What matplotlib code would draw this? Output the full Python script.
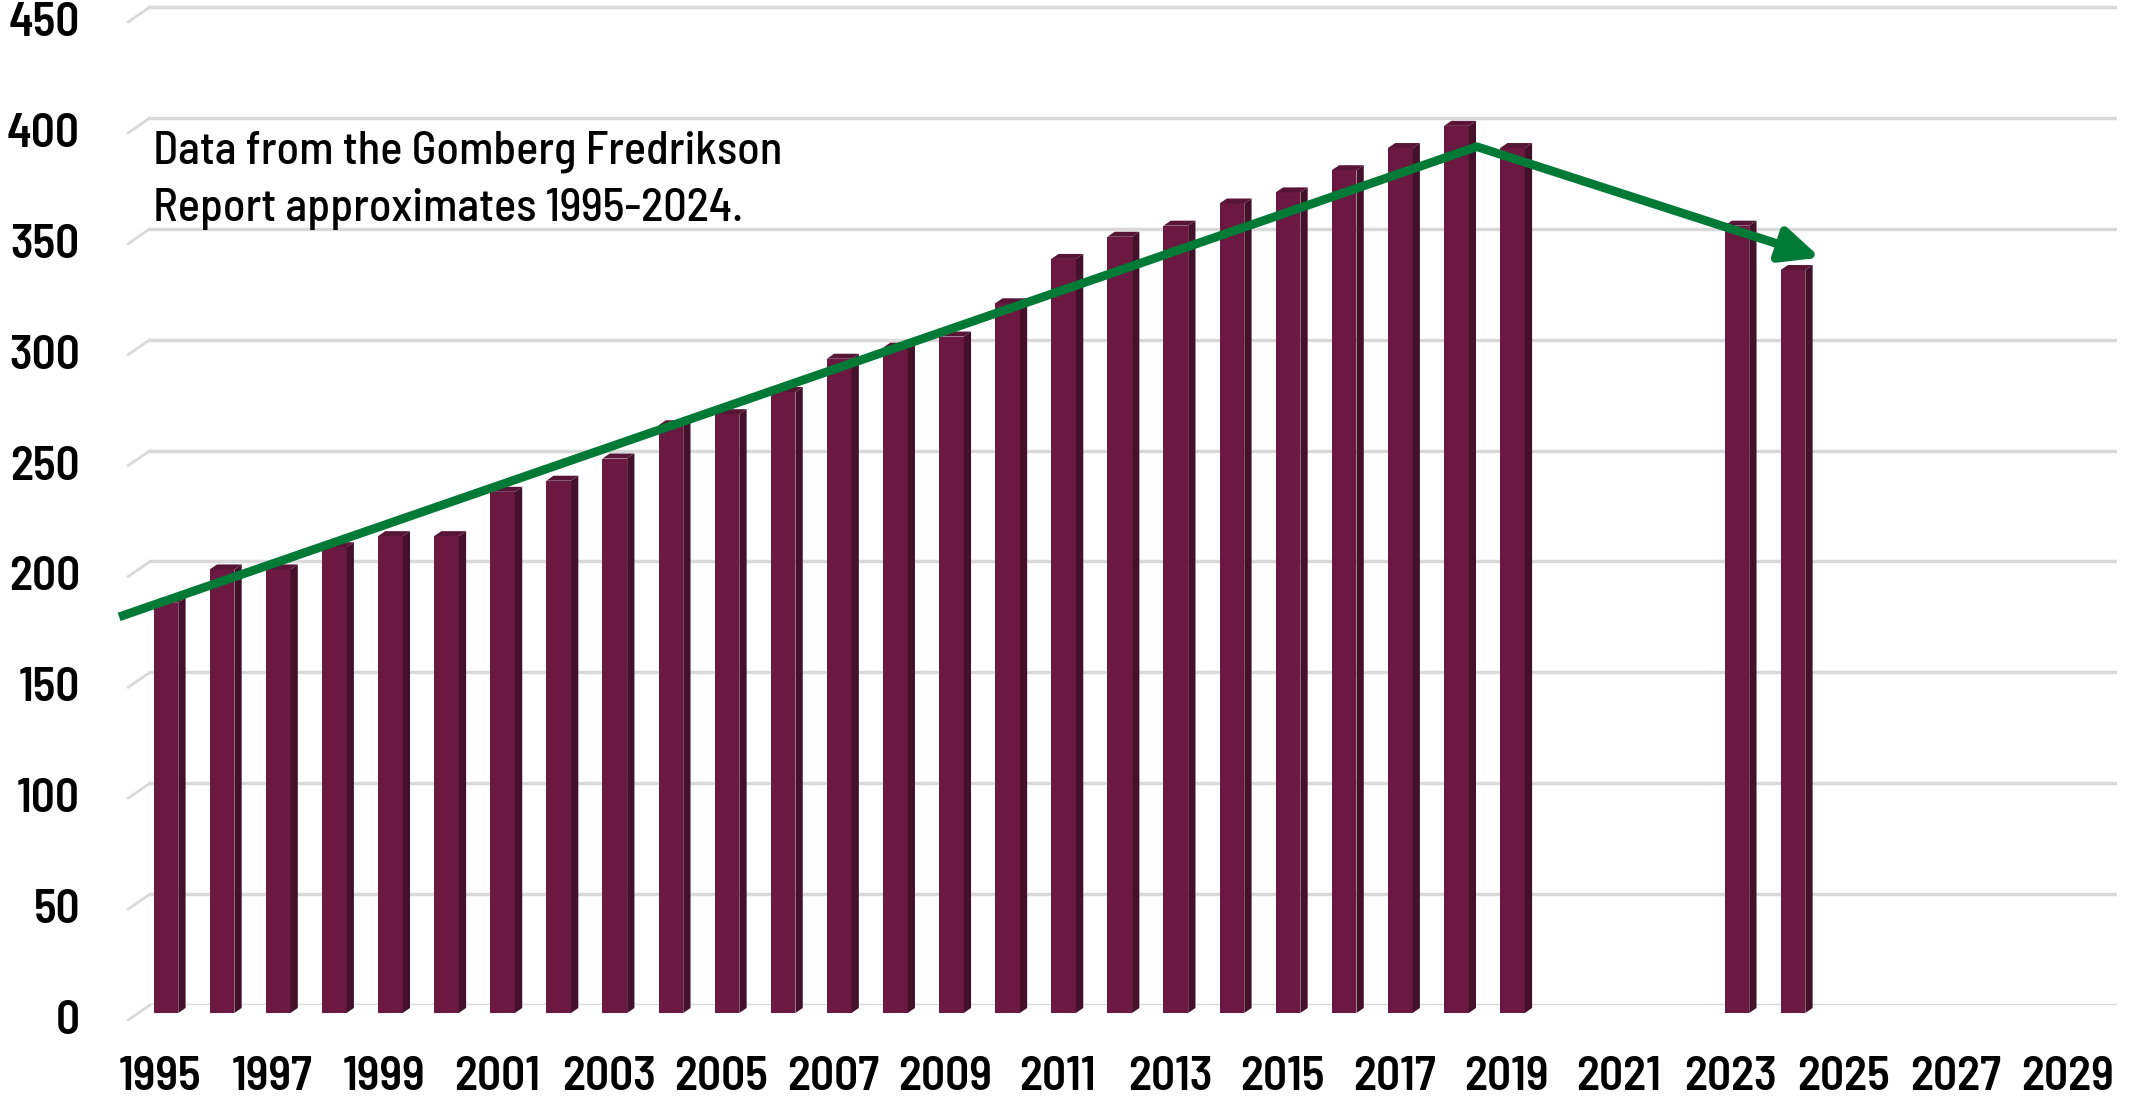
import numpy as np
import matplotlib.pyplot as plt
from matplotlib.patches import Polygon
from matplotlib.transforms import ScaledTranslation

plt.rcParams['font.family'] = ['Barlow Semi Condensed', 'DejaVu Sans']

# data
years = list(range(1995, 2030))
values = {
    1995: 185, 1996: 200, 1997: 200, 1998: 210, 1999: 215, 2000: 215,
    2001: 235, 2002: 240, 2003: 250, 2004: 265, 2005: 270, 2006: 280,
    2007: 295, 2008: 300, 2009: 305, 2010: 320, 2011: 340, 2012: 350,
    2013: 355, 2014: 365, 2015: 370, 2016: 380, 2017: 390, 2018: 400,
    2019: 390, 2023: 355, 2024: 335,
}
yticks = [0, 50, 100, 150, 200, 250, 300, 350, 400, 450]
xtick_years = years[::2]

# hand drawn trend arrow (rise then fall)
trend_x = [1994.27, 2018.47, 2024.59]
trend_y = [175, 387, 337]

note = "Data from the Gomberg Fredrikson\nReport approximates 1995-2024."

front_col = '#6b1940'
side_col = '#43112a'
top_col = '#581535'
green = '#007a36'
grid_col = '#d9d9d9'

W, H = 2144, 1098
x_lo, x_hi = 1994.40, 2029.88
y_lo, y_hi = 0, 452
px_left, px_right = 126.4, 2117
px_bottom, px_top = 1005, 2.55

fig = plt.figure(figsize=(W / 100, H / 100), dpi=100)
ax = fig.add_axes([px_left / W, (H - px_bottom) / H,
                   (px_right - px_left) / W, (px_bottom - px_top) / H])
ax.set_xlim(x_lo, x_hi)
ax.set_ylim(y_lo, y_hi)

# 3D-ish gridlines: a short slant at the left then flat
x_flat = 1994.82
for v in yticks:
    ax.plot([1994.43, x_flat], [v - 6.8, v], color=grid_col, lw=2, zorder=1,
            solid_capstyle='round', clip_on=False)
    ax.plot([x_flat, x_hi], [v, v], color=grid_col, lw=2.5, zorder=1)

# bars with a side and top face, front sits a bit below the back wall
fw, sw, dz, drop = 0.44, 0.13, 2.25, 3.6
for yr, v in values.items():
    x0 = yr - 0.115
    x1 = x0 + fw
    b, t = -drop, v - drop
    ax.add_patch(Polygon([(x0, b), (x1, b), (x1, t), (x0, t)], closed=True,
                         facecolor=front_col, edgecolor='none', zorder=3, clip_on=False))
    ax.add_patch(Polygon([(x1, b), (x1 + sw, b + dz), (x1 + sw, t + dz), (x1, t)],
                         closed=True, facecolor=side_col, edgecolor='none', zorder=3,
                         clip_on=False))
    ax.add_patch(Polygon([(x0, t), (x1, t), (x1 + sw, t + dz), (x0 + sw, t + dz)],
                         closed=True, facecolor=top_col, edgecolor='none', zorder=3,
                         clip_on=False))

# trend line with arrowhead at the end
ax.plot(trend_x[:2], trend_y[:2], color=green, lw=6.3, zorder=5, clip_on=False,
        solid_capstyle='butt')
ax.annotate('', xy=(trend_x[2], trend_y[2]), xytext=(trend_x[1], trend_y[1]),
            arrowprops=dict(arrowstyle='-|>,head_length=2.3,head_width=1.05',
                            mutation_scale=10, color=green, lw=6.3,
                            shrinkA=0, shrinkB=0), zorder=5)

ax.text(1994.87, 394.4, note, fontsize=33.3, fontweight=500, va='top', ha='left',
        linespacing=1.46, color='black', zorder=6)

ax.set_yticks(yticks)
ax.set_xticks(xtick_years)
ax.set_xticklabels([str(y) for y in xtick_years])
ax.tick_params(axis='y', length=0, pad=33.4, labelsize=34)
ax.tick_params(axis='x', length=0, pad=37, labelsize=34)
for lab in ax.get_yticklabels() + ax.get_xticklabels():
    lab.set_fontweight(600)
for lab in ax.get_yticklabels():
    lab.set_transform(lab.get_transform() + ScaledTranslation(0, -0.12, fig.dpi_scale_trans))

for s in ax.spines.values():
    s.set_visible(False)
ax.grid(False)

fig.savefig('out.png', dpi=100, facecolor='white')
